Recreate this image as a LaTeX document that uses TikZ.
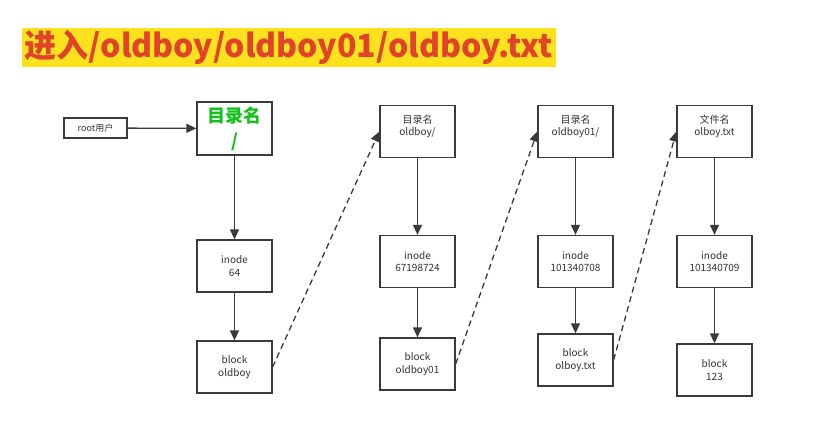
\documentclass[tikz,border=0pt]{standalone}
\usepackage{fontspec}
\setmainfont{Noto Sans CJK SC}
\usetikzlibrary{arrows.meta, positioning, calc}
\definecolor{inkline}{HTML}{3A3A3A}
\definecolor{inktext}{HTML}{333333}
\definecolor{titlered}{HTML}{E0432A}
\definecolor{titleyellow}{HTML}{FBE21D}
\definecolor{dirgreen}{HTML}{12C21A}
\newcommand{\fsbox}[4]{%
  \node[draw=inkline, line width=1.3pt, fill=white,
        minimum width=75pt, minimum height=52pt, inner sep=0pt, align=center,
        text=inktext, font=\fontsize{10}{12.5}\selectfont] (#1) at (#2,#3) {#4};}

\begin{document}
\begin{tikzpicture}[x=1pt, y=-1pt]
      \useasboundingbox (0,0) rectangle (821,431);
      \tikzset{link/.style={-{Triangle[length=10pt,width=9pt]}, inkline, line width=1.3pt}}
      \node[fill=titleyellow, minimum width=534pt, minimum height=39pt, inner sep=0pt,
            text=titlered, font=\fontsize{32}{34}\selectfont\bfseries] (title) at (289,47.5)
            {进入/oldboy/oldboy01/oldboy.txt};
      \node[draw=inkline, line width=1.3pt, minimum width=63pt, minimum height=20pt, inner sep=0pt,
            text=inktext, font=\fontsize{9}{10}\selectfont] (root) at (95.5,128) {root用户};
      \node[draw=inkline, line width=1.3pt, fill=white, minimum width=75pt, minimum height=53pt,
            inner sep=0pt, align=center, text=dirgreen,
            font=\fontsize{18}{25}\selectfont\bfseries] (dir0) at (234.5,128.5) {目录名\\/};
      \fsbox{ino0}{234.5}{266}{inode\\64}
      \fsbox{blk0}{234.5}{367}{block\\oldboy}
      \fsbox{dir1}{417.5}{131.5}{目录名\\oldboy/\\\mbox{}}
      \fsbox{ino1}{417.5}{261.5}{inode\\67198724}
      \fsbox{blk1}{417.5}{364}{block\\oldboy01}
      \fsbox{dir2}{575.5}{131.5}{目录名\\oldboy01/\\\mbox{}}
      \fsbox{ino2}{575.5}{261.5}{inode\\101340708}
      \fsbox{blk2}{575.5}{360}{block\\olboy.txt}
      \fsbox{file3}{714.5}{131.5}{文件名\\olboy.txt\\\mbox{}}
      \fsbox{ino3}{714.5}{261.5}{inode\\101340709}
      \fsbox{blk3}{714.5}{370}{block\\123}
      \draw[link] (root) -- (dir0);
      \draw[link] (dir0) -- (ino0);
      \draw[link] (ino0) -- (blk0);
      \draw[link] (dir1) -- (ino1);
      \draw[link] (ino1) -- (blk1);
      \draw[link] (dir2) -- (ino2);
      \draw[link] (ino2) -- (blk2);
      \draw[link] (file3) -- (ino3);
      \draw[link] (ino3) -- (blk3);
      \draw[link, dashed, dash pattern=on 6pt off 4pt] (blk0.east) -- (dir1.west);
      \draw[link, dashed, dash pattern=on 6pt off 4pt] (blk1.east) -- (dir2.west);
      \draw[link, dashed, dash pattern=on 6pt off 4pt] (blk2.east) -- (file3.west);
    \end{tikzpicture}
\end{document}
